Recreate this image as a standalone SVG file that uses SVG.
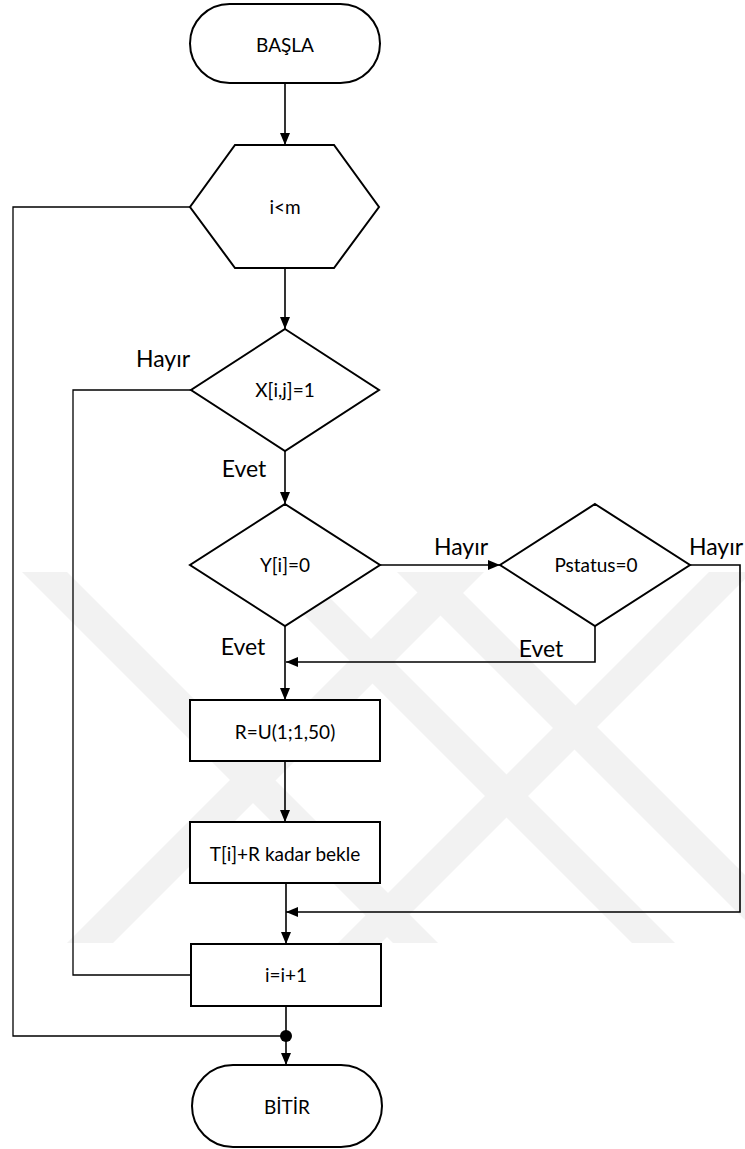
<svg xmlns="http://www.w3.org/2000/svg" width="745" height="1149" viewBox="0 0 745 1149">
  <style>
    .shape { fill: #ffffff; stroke: #000000; stroke-width: 2; }
    .wire { fill: none; stroke: #000000; stroke-width: 1.6; }
    .loop { fill: none; stroke: #000000; stroke-width: 1.3; }
    .txt { font-family: Lato, "Liberation Sans", sans-serif; font-size: 19px; fill: #000000; text-anchor: middle; }
    .lbl { font-family: Lato, "Liberation Sans", sans-serif; font-size: 23px; fill: #000000; text-anchor: middle; }
    .mark { fill: #f2f2f2; }
  </style>
  <defs>
    <marker id="arrow" markerUnits="userSpaceOnUse" markerWidth="13" markerHeight="11" refX="12" refY="5" orient="auto">
      <path d="M0,0 L12,5 L0,10 z" fill="#000000"/>
    </marker>
  </defs>
  <rect x="0" y="0" width="745" height="1149" fill="#ffffff"/>

  <!-- background emblem: crossing diagonal bands -->
  <g id="emblem">
    <polygon class="mark" points="67,943 113,943 484,572 438,572"/>
    <polygon class="mark" points="338,943 381,943 752,572 709,572"/>
    <polygon class="mark" points="22,572 67,572 438,943 393,943"/>
    <polygon class="mark" points="261,572 304,572 675,943 632,943"/>
    <polygon class="mark" points="397,572 442,572 813,943 768,943"/>
  </g>

  <g id="connectors">
    <path class="wire" d="M285,83 V145" marker-end="url(#arrow)"/>
    <path class="wire" d="M285,268 V329" marker-end="url(#arrow)"/>
    <path class="wire" d="M285,451 V504" marker-end="url(#arrow)"/>
    <path class="wire" d="M285,626 V700" marker-end="url(#arrow)"/>
    <path class="wire" d="M285,761 V822" marker-end="url(#arrow)"/>
    <path class="wire" d="M286,883 V944" marker-end="url(#arrow)"/>
    <path class="wire" d="M380,565 H500" marker-end="url(#arrow)"/>
    <path class="wire" d="M595,626 V662 H286" marker-end="url(#arrow)"/>
    <path class="wire" d="M690,565 H740 V912 H286" marker-end="url(#arrow)"/>
    <path class="loop" d="M191,390 H73 V975 H191"/>
    <path class="loop" d="M190,207 H13 V1036 H286"/>
    <path class="wire" d="M286,1006 V1065" marker-end="url(#arrow)"/>
    <circle cx="286" cy="1036" r="6" fill="#000000"/>
  </g>

  <g id="start">
    <rect class="shape" x="190" y="4" width="190" height="79" rx="39.5" ry="39.5"/>
    <text class="txt" x="285" y="52">BAŞLA</text>
  </g>

  <g id="loop-check">
    <polygon class="shape" points="235,145 334,145 379,207 334,268 235,268 190,207"/>
    <text class="txt" x="285" y="214">i&lt;m</text>
  </g>

  <g id="x-check">
    <polygon class="shape" points="285,329 379,390 285,451 191,390"/>
    <text class="txt" x="285" y="397">X[i,j]=1</text>
  </g>

  <g id="y-check">
    <polygon class="shape" points="285,504 380,565 285,626 190,565"/>
    <text class="txt" x="285" y="572">Y[i]=0</text>
  </g>

  <g id="pstatus-check">
    <polygon class="shape" points="595,504 690,565 595,626 500,565"/>
    <text class="txt" x="596" y="572">Pstatus=0</text>
  </g>

  <g id="draw-r">
    <rect class="shape" x="190" y="700" width="190" height="61"/>
    <text class="txt" x="285" y="739">R=U(1;1,50)</text>
  </g>

  <g id="wait">
    <rect class="shape" x="190" y="822" width="190" height="61"/>
    <text class="txt" x="285" y="861">T[i]+R kadar bekle</text>
  </g>

  <g id="increment">
    <rect class="shape" x="191" y="944" width="190" height="62"/>
    <text class="txt" x="286" y="982">i=i+1</text>
  </g>

  <g id="end">
    <rect class="shape" x="192" y="1065" width="190" height="82" rx="41" ry="41"/>
    <text class="txt" x="287" y="1114">BİTİR</text>
  </g>

  <g id="labels">
    <text class="lbl" x="163" y="367">Hayır</text>
    <text class="lbl" x="244" y="477">Evet</text>
    <text class="lbl" x="461" y="555">Hayır</text>
    <text class="lbl" x="716" y="555">Hayır</text>
    <text class="lbl" x="243" y="655">Evet</text>
    <text class="lbl" x="541" y="657">Evet</text>
  </g>
</svg>
